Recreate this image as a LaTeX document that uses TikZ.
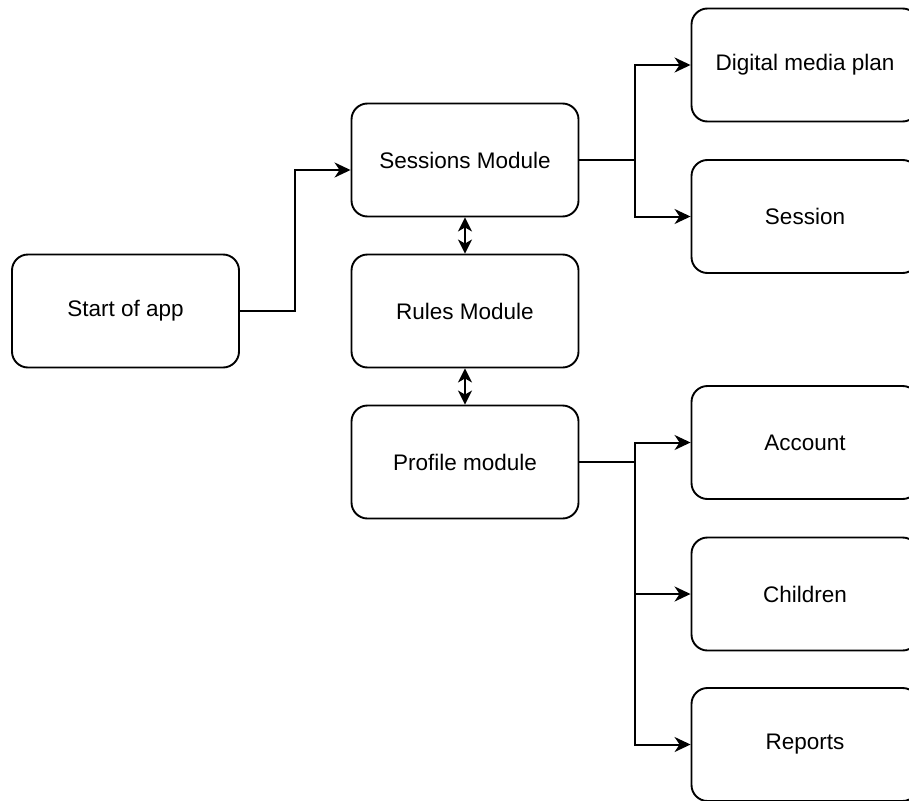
\documentclass[tikz,border=0pt]{standalone}
\usepackage{fontspec}
\setmainfont{Liberation Sans}
\usetikzlibrary{arrows.meta}
\begin{document}
\begin{tikzpicture}[x=1pt,y=-1pt]
\tikzset{
  box/.style={draw=black, fill=white, line width=1.9pt, rounded corners=16pt,
    minimum width=227pt, minimum height=113pt, inner sep=0pt,
    font=\fontsize{22.5}{27}\selectfont},
  link/.style={draw=black, line width=2pt, -{Stealth[length=16pt,width=15pt,inset=5pt]}},
  dlink/.style={draw=black, line width=2pt, {Stealth[length=14pt,width=14pt,inset=4pt]}-{Stealth[length=14pt,width=14pt,inset=4pt]}}}
\useasboundingbox (0,0) rectangle (909,800);
\fill[white] (0,0) rectangle (909,800);
\clip (0,0) rectangle (909,800);
\node[box] (start) at (125.5,311) {Start of app};
\node[box] (sessions) at (465,160) {Sessions Module};
\node[box] (rules) at (465,311) {Rules Module};
\node[box] (profile) at (465,462) {Profile module};
\node[box] (dmp) at (805,65) {Digital media plan};
\node[box] (session) at (805,216.5) {Session};
\node[box] (account) at (805,442.5) {Account};
\node[box] (children) at (805,594) {Children};
\node[box] (reports) at (805,744.5) {Reports};
\draw[link] (start.east) -- ++(55,0) |- ([yshift=-10pt]sessions.west);
\draw[link] (sessions.east) -- ++(56,0) |- (dmp.west);
\draw[link] (sessions.east) -- ++(56,0) |- (session.west);
\draw[link] (profile.east) -- ++(56,0) |- (account.west);
\draw[link] (profile.east) -- ++(56,0) |- (children.west);
\draw[link] (profile.east) -- ++(56,0) |- (reports.west);
\draw[dlink] (sessions.south) -- (rules.north);
\draw[dlink] (rules.south) -- (profile.north);
\end{tikzpicture}
\end{document}
